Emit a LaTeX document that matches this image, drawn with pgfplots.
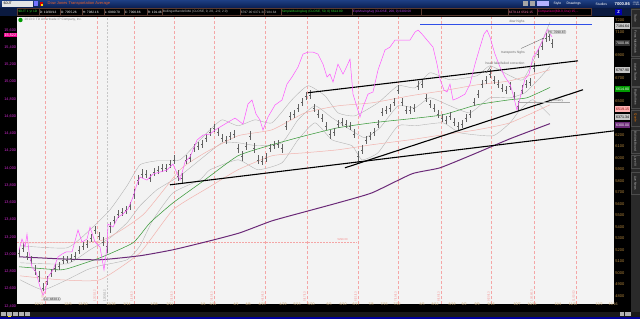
\documentclass[border=0pt]{standalone}
\usepackage{pgfplots}
\pgfplotsset{compat=1.18}
\usepackage{fontspec}
\setmainfont{Liberation Sans}
\usetikzlibrary{arrows.meta}
\definecolor{plotbg}{HTML}{F3F3F3}
\definecolor{vpink}{HTML}{F4A6A6}
\definecolor{bbgray}{HTML}{B5B5B5}
\definecolor{mapink}{HTML}{F2B3AE}
\definecolor{magreen}{HTML}{3C9A3C}
\definecolor{mapurple}{HTML}{6B2A78}
\definecolor{barcol}{HTML}{626262}
\definecolor{magline}{HTML}{FF55FF}
\definecolor{blueline}{HTML}{2F4FE8}
\definecolor{tickbrown}{HTML}{B88A3E}
\definecolor{datetan}{HTML}{C9A46A}
\definecolor{magtick}{HTML}{D62AD6}
\definecolor{tbA}{HTML}{1E3F84}
\definecolor{tbB}{HTML}{0A1E50}
\definecolor{stripbg}{HTML}{0B1A40}
\definecolor{ibord}{HTML}{5A3A30}
\definecolor{ingreen}{HTML}{30D030}
\definecolor{inpurple}{HTML}{B040E0}
\definecolor{inpink}{HTML}{F070A0}
\definecolor{lgray}{HTML}{C0C0C0}
\definecolor{titleor}{HTML}{E8602A}
\definecolor{tabbg}{HTML}{2A2A2A}
\definecolor{annot}{HTML}{6A6A6A}
\newcommand{\fs}[1]{\fontsize{#1}{#1}\selectfont}
\newcommand{\ibox}[4]{\draw[draw=ibord, fill=black, line width=0.4pt] (#1,303.6) rectangle (#2,310.4);
  \node[anchor=west, inner sep=0.7pt, text=#3, font=\fs{3.2}] at (#1,307) {#4};}
\newcommand{\tabx}[4]{\fill[tabbg] (631,{319-#2}) rectangle (640,{319-#1});
  \draw[gray!60!black, line width=0.3pt] (631.3,{319-#2}) rectangle (639.7,{319-#1});
  \node[rotate=-90, text=#4, font=\fs{3}, inner sep=0pt] at (635.5,{319-(#1+#2)/2}) {#3};}
\newcommand{\rbox}[4]{\node[anchor=west, fill=#2, text=#3, font=\fs{3.6}, inner sep=0.8pt, minimum width=15pt, minimum height=5.5pt] at (615,#1) {#4};}
\newcommand{\expl}[2]{\node[rotate=90, anchor=south west, text=vpink!85!red, font=\fs{2.9}, inner sep=0.3pt] at (#1-0.8,17) {#2};}
\begin{document}
\begin{tikzpicture}[x=1pt,y=1pt]
\fill[black] (0,0) rectangle (640,319);
\useasboundingbox (0,0) rectangle (640,319);
% title bar
\shade[top color=tbA, bottom color=tbB] (0,311) rectangle (640,319);
\fill[gray!20] (2,312.3) rectangle (33,318.2);
\node[anchor=west, text=black, font=\fs{3.4}, inner sep=0.5pt] at (3,315.2) {\$DJT};
\fill[blue!55!white] (34,312.6) rectangle (38,317.8);
\fill[red!80!black] (39.5,313.2) rectangle (43,317.2);
\fill[yellow!80!orange] (41,313.2) rectangle (43,315);
\node[anchor=west, text=titleor, font=\fs{4}, inner sep=0.5pt] at (47,315.2) {Dow Jones Transportation Average};
\foreach \ix in {523,530} {\fill[gray!70] (\ix,312.6) rectangle (\ix+5,317.8);}
\fill[blue!30!white] (537,312.6) rectangle (549,317.8);
\node[anchor=west, text=white, font=\fs{3.4}, inner sep=0.5pt] at (553,315.2) {Style};
\node[anchor=west, text=white, font=\fs{3.4}, inner sep=0.5pt] at (566,315.2) {Drawings};
\node[anchor=west, text=white, font=\fs{3.4}, inner sep=0.5pt] at (595,315.2) {Studies};
\node[anchor=west, text=white, font=\bfseries\fs{4.2}, inner sep=0.5pt] at (614,315.2) {7000.86};
\node[anchor=west, text=white, font=\fs{2.2}, inner sep=0pt, align=left] at (632.5,315.2) {-26.46\\-0.38\%};
% info strip
\fill[stripbg] (0,303) rectangle (640,311);
\ibox{17.5}{39}{ingreen}{\$DJT 1 yr 1D}
\ibox{39}{60}{white}{D: 10/30/13}
\ibox{60}{82}{white}{O: 7055.26}
\ibox{82}{104}{white}{H: 7082.16}
\ibox{104}{124}{white}{L: 6980.70}
\ibox{124}{147}{white}{C: 7000.86}
\ibox{147}{162}{white}{R: 101.46}
\ibox{162}{240}{lgray}{BollingerBandsSMA (CLOSE, 0, 20, -2.0, 2.0)}
\ibox{240}{264}{lgray}{6797.90 6371.34}
\ibox{264}{281}{lgray}{7184.64}
\ibox{281}{352}{ingreen}{SimpleMovingAvg (CLOSE, 50, 0) 6614.80}
\ibox{352}{421}{inpurple}{ExpMovingAvg (CLOSE, 200, 0) 6300.00}
\ibox{421}{508}{white}{}
\ibox{508}{537}{inpink}{6379.14 6519.15}
\ibox{537}{591}{magenta}{Comparison(\$DJI, line) 15,...}
\fill[blue!70!black] (615,303.6) rectangle (622,310.4);
\node[text=white, font=\bfseries\fs{4}, inner sep=0pt] at (618.5,307) {Z};
% side tabs
\fill[tabbg] (631,7) rectangle (640,311);
\tabx{9}{27}{Trade}{lgray}
\tabx{28}{56}{Forex Mkt Watch}{lgray}
\tabx{58}{86}{Active Trader}{lgray}
\tabx{87}{108}{Big Buttons}{lgray}
\tabx{110}{126}{Quote}{orange}
\tabx{130}{153}{Bid/Ask Board}{lgray}
\tabx{155}{168}{Level II}{lgray}
\tabx{172}{194}{Live News}{lgray}
% bottom toolbar
\fill[black!90] (0,2.5) rectangle (640,7.5);
\foreach \ix in {1,7,13,19,25} {\fill[gray!60] (\ix,3.3) rectangle (\ix+4.5,7);}
\fill[yellow!80!orange] (8,2.5) rectangle (11,3.2);
\fill[gray!60] (620,3.3) rectangle (624,7); \fill[gray!60] (625,3.3) rectangle (631,7);
\fill[blue!60!black] (0,0) rectangle (640,2.4);
% plot background
\fill[plotbg] (17,15) rectangle (614,302);
% watermark
\fill[green!60!black] (20.5,299) circle (2.2);
\node[anchor=west, text=gray, font=\fs{3.2}, inner sep=0.5pt] at (24,299) {2013 \textcopyright{} TD Ameritrade IP Company, Inc.};
% vertical expiration lines
\foreach \xx in {45,97,134,174,214,265,307,358,398,441,491,534,576}
  {\draw[vpink, line width=0.5pt, dash pattern=on 3pt off 2pt] (\xx,15) -- (\xx,302);}
\draw[gray!45, line width=0.5pt, dash pattern=on 2pt off 1.5pt] (107,15) -- (107,302);
\draw[vpink, line width=0.45pt, dash pattern=on 1.5pt off 1.5pt] (17,77) -- (357,77);
\node[anchor=south west, text=vpink!80!red, font=\fs{2.8}, inner sep=0.3pt] at (337,77.5) {5290.00};
\begin{axis}[
  at={(17,15)}, anchor=south west,
  width=597pt, height=287pt, scale only axis,
  xmin=0, xmax=597, ymin=4748, ymax=7248,
  axis y line*=right, axis x line*=bottom,
  axis line style={draw=none}, major tick length=0pt,
  ytick={4800,4900,...,6200,6500,6700,6900,7100,7200}, scaled y ticks=false,
  /pgf/number format/1000 sep={}, /pgf/number format/assume math mode=true,
  yticklabel style={text=tickbrown, font=\fs{4}, inner sep=1.2pt},
  xtick={22,51,66,94,110,137,153,186,196,219,231,245,266,280,294,312,326,339,354,367,380,405,418,435,447,460,474,500,515,541,556,582,596},
  xticklabels={11/12,12/3,12/10,12/26,1/14,1/28,2/11,3/4,3/11,4/1,4/8,4/15,4/29,5/13,5/20,6/3,6/10,6/17,7/8,7/15,7/22,8/5,8/12,8/19,9/2,9/9,9/16,10/7,10/14,11/4,11/11,12/2,12/16},
  xticklabel style={text=datetan, font=\fs{3.6}, inner sep=1pt},
]
% Bollinger bands (upper, middle, lower)
\addplot[bbgray, line width=0.4pt, smooth, tension=0.3] coordinates {
(3,5236) (50,5218) (73,5375) (93,5549) (110,5758) (123,5941) (140,5976) (163,5985) (183,6159) (193,6246) (205,6333) (221,6281) (238,6333) (255,6307) (275,6508) (291,6630) (308,6542) (321,6394) (338,6368) (361,6481) (381,6630) (398,6612) (413,6743) (433,6682) (460,6717) (473,6804) (493,6717) (506,6682) (520,6917) (533,7185)};
\addplot[bbgray, line width=0.4pt, smooth, tension=0.3] coordinates {
(3,5088) (50,5079) (73,5201) (93,5305) (110,5436) (123,5584) (140,5724) (163,5846) (183,5985) (205,6133) (221,6133) (241,6107) (265,6133) (281,6333) (298,6455) (315,6351) (335,6237) (348,6177) (363,6264) (381,6455) (398,6438) (413,6525) (433,6455) (453,6394) (473,6525) (493,6525) (508,6569) (523,6699) (533,6798)};
\addplot[bbgray, line width=0.4pt, smooth, tension=0.3] coordinates {
(3,4940) (26,4852) (50,4940) (70,5027) (83,5062) (110,5114) (123,5236) (136,5462) (156,5697) (183,5811) (193,5898) (221,5985) (241,5898) (265,5959) (281,6159) (298,6307) (315,6159) (335,6107) (345,5985) (361,6046) (381,6281) (398,6281) (426,6307) (443,6220) (476,6194) (493,6307) (503,6420) (516,6508) (533,6371)};
% pink envelope
\addplot[mapink, line width=0.5pt, smooth, tension=0.3] coordinates {
(3,5262) (83,5279) (126,5506) (163,5898) (188,6046) (221,6194) (255,6246) (288,6394) (321,6455) (355,6481) (393,6542) (426,6586) (460,6638) (493,6673) (533,6769)};
\addplot[mapink, line width=0.5pt, smooth, tension=0.3] coordinates {
(3,4974) (43,4940) (83,4940) (123,5175) (156,5549) (191,5741) (221,5898) (255,6020) (288,6046) (321,6072) (355,6116) (393,6159) (426,6203) (460,6246) (493,6307) (533,6464)};
% 50-day SMA
\addplot[magreen, line width=0.55pt, smooth, tension=0.3] coordinates {
(2,5053) (40,5027) (50,5035) (83,5131) (116,5262) (133,5436) (156,5610) (188,5811) (221,6020) (255,6116) (288,6194) (321,6264) (355,6307) (393,6342) (426,6377) (460,6464) (493,6508) (510,6525) (533,6615)};
% 200-day EMA
\addplot[mapurple, line width=1pt, smooth, tension=0.3] coordinates {
(2,5140) (43,5122) (83,5114) (123,5149) (156,5201) (193,5279) (223,5349) (255,5453) (288,5532) (321,5610) (355,5697) (395,5863) (423,5915) (460,6046) (493,6168) (533,6300)};
% price bars (close, high above, low below)
\addplot[only marks, mark=-, mark size=0.9pt, barcol, line width=0.35pt,
  error bars/.cd, y dir=both, y explicit, error mark=none,
  error bar style={barcol, line width=0.45pt}]
  table[x=x, y=c, y error plus=ep, y error minus=em] {
x c ep em
2 5175 40 40
6 5218 45 35
10 5149 35 40
14 5114 35 40
18 5027 40 45
22 4974 40 50
26 4870 45 32
30 4931 40 40
34 5001 35 40
38 5044 35 35
42 5062 30 35
46 5114 30 35
50 5114 35 30
54 5131 30 35
58 5149 30 35
62 5201 30 35
66 5236 30 35
70 5253 30 35
74 5305 35 35
78 5375 35 40
82 5323 35 40
86 5271 40 40
90 5236 40 60
93 5410 35 60
97 5462 35 35
101 5514 30 35
105 5532 30 35
109 5549 30 35
113 5584 35 40
117 5689 40 45
121 5811 40 50
125 5863 40 40
129 5863 35 35
133 5828 35 35
137 5880 35 35
141 5898 35 35
145 5915 30 35
149 5915 30 35
153 5950 35 35
157 5985 45 40
161 5846 50 45
165 5828 40 45
169 5985 40 40
173 6002 35 35
177 6089 35 35
181 6107 35 35
185 6124 35 35
189 6177 35 35
193 6229 35 35
197 6264 35 35
201 6229 35 35
205 6177 35 40
209 6159 35 35
213 6194 35 35
217 6211 35 35
221 6089 35 45
225 6020 40 45
229 6107 35 40
233 6194 40 40
237 6089 40 45
241 5985 40 40
245 5976 40 40
249 6002 40 35
253 6089 35 35
257 6116 35 35
261 6124 35 35
265 6089 35 45
269 6281 40 40
273 6368 35 35
277 6386 35 35
281 6438 35 35
285 6490 35 35
289 6542 35 35
293 6551 40 35
297 6438 35 40
301 6386 35 35
305 6351 35 35
309 6281 35 40
313 6211 35 45
317 6229 35 40
321 6298 35 35
325 6316 35 35
329 6298 35 35
333 6281 35 35
337 6211 40 40
341 6020 45 60
345 6072 40 40
349 6159 35 35
353 6194 35 35
357 6229 35 35
361 6298 35 35
365 6403 35 35
369 6420 35 35
373 6438 35 35
377 6490 35 35
381 6595 40 40
385 6490 35 40
389 6420 35 35
393 6420 35 35
397 6438 35 35
401 6630 40 40
405 6647 40 40
409 6525 35 40
413 6473 35 35
417 6438 35 35
421 6386 35 35
425 6351 35 40
429 6333 35 35
433 6368 35 35
437 6316 35 40
441 6281 35 35
445 6298 35 35
449 6351 35 35
453 6386 35 35
457 6490 35 35
461 6560 35 35
465 6647 35 35
469 6682 35 35
473 6734 40 35
477 6682 35 35
481 6647 35 35
485 6612 35 35
489 6595 35 35
493 6630 35 35
497 6542 35 40
501 6455 40 43
505 6595 40 35
509 6647 35 35
513 6664 35 35
517 6786 40 35
521 6908 40 40
525 6978 40 40
529 7048 40 40
532 7060 30 40
535 7001 40 40
};
% trend lines
\addplot[black, line width=1.1pt] coordinates {(291,6569) (561,6847)};
\addplot[black, line width=1.1pt] coordinates {(153,5767) (597,6237)};
\addplot[black, line width=1.1pt] coordinates {(328,5915) (566,6595)};
\addplot[blueline, line width=1.4pt] coordinates {(403,7161) (575,7161)};
\addplot[gray!70, line width=0.5pt] coordinates {(501,6490) (553,6490)};
\end{axis}
\begin{axis}[
  at={(17,15)}, anchor=south west,
  width=597pt, height=287pt, scale only axis,
  xmin=0, xmax=597, ymin=12400, ymax=15728,
  axis y line*=left, hide x axis,
  axis line style={draw=none}, major tick length=0pt,
  ytick={12400,12600,...,15600}, scaled y ticks=false,
  /pgf/number format/1000 sep={,}, /pgf/number format/assume math mode=true,
  yticklabel style={text=magtick, font=\fs{3.8}, inner sep=0.8pt},
]
\addplot[magline, line width=0.5pt] table {
2 13050
5 13177
8 13085
10 13235
12 13027
15 12853
19 12795
23 12621
26 12528
28 12563
31 12737
36 12818
41 12969
45 13003
49 13027
55 13027
61 13282
65 13143
70 13177
73 13316
78 13143
83 13085
87 12818
90 13085
91 13351
96 13316
101 13432
106 13467
111 13525
116 13664
120 13815
123 13896
130 13861
136 13931
143 13954
150 13977
156 14047
163 13861
168 14070
173 14128
180 14325
186 14383
193 14395
198 14441
208 14511
218 14580
226 14511
231 14743
235 14789
239 14627
243 14557
246 14441
251 14592
258 14731
265 14789
270 14974
275 15056
281 15171
286 15322
291 15345
296 15345
301 15322
306 15206
310 15056
313 15090
316 14998
321 15206
326 15090
329 15160
333 15264
336 14858
340 14708
343 14592
346 14708
351 14858
356 14882
361 15137
368 15369
373 15403
378 15485
383 15485
388 15485
393 15485
398 15577
401 15600
405 15554
410 15485
416 15403
420 15206
423 15032
427 14905
430 14882
433 14974
436 14789
441 14812
448 14858
453 14974
458 15206
463 15403
467 15554
470 15600
473 15519
475 15438
478 15322
483 15171
488 15056
493 14974
496 14858
500 14673
504 14858
508 15032
512 15090
516 15287
521 15369
525 15461
528 15542
531 15612
533 15554
535 15522
};
\end{axis}
% expiration labels
\expl{45}{11/16/12}
\expl{97}{12/21/12}
\expl{134}{1/18/13}
\expl{174}{2/15/13}
\expl{214}{3/15/13}
\expl{265}{4/19/13}
\expl{307}{5/17/13}
\expl{358}{6/21/13}
\expl{398}{7/19/13}
\expl{441}{8/16/13}
\expl{491}{9/20/13}
\expl{534}{10/18/13}
\expl{576}{11/15/13}
\node[rotate=90, anchor=south west, text=gray, font=\fs{2.9}, inner sep=0.3pt] at (106.2,17) {12/31/12};
% left highlighted value
\node[anchor=east, fill=magenta, text=white, font=\fs{3.8}, inner sep=0.6pt] at (17,284) {15,522};
% right value boxes
\rbox{293}{gray!45}{black}{7184.64}
\rbox{276}{black!80}{white}{7000.86}
\rbox{249}{gray!45}{black}{6797.90}
\rbox{230}{green!60!black}{white}{6614.80}
\rbox{210}{red!30}{red!50!black}{6519.15}
\rbox{202}{gray!45}{black}{6371.34}
\rbox{194}{mapurple}{white}{6300.00}
% annotations
\node[text=annot, font=\fs{3.3}, inner sep=0.3pt] at (517,297) {dow highs};
\node[text=annot, font=\fs{3.3}, inner sep=0.3pt] at (513,266) {transports highs};
\node[text=annot, font=\fs{3.3}, inner sep=0.3pt] at (505,256) {head fake/failed correction};
\draw[annot, line width=0.35pt, -{Stealth[length=2pt,width=1.6pt]}] (521,270.5) -- (544,281);
\draw[annot, line width=0.35pt, -{Stealth[length=2pt,width=1.6pt]}] (491,253) -- (486,246);
\node[fill=gray!25, draw=gray!70, rounded corners=1pt, text=black!80, font=\fs{3.2}, inner sep=0.6pt] at (557,287) {Hi: 7090.87};
\node[fill=gray!25, draw=gray!70, rounded corners=1pt, text=black!80, font=\fs{3.2}, inner sep=0.6pt] at (52,20) {Lo: 4838.1};
\node[text=annot, font=\fs{3.2}, inner sep=0.3pt] at (556,218.5) {Symmetry};
\end{tikzpicture}
\end{document}
